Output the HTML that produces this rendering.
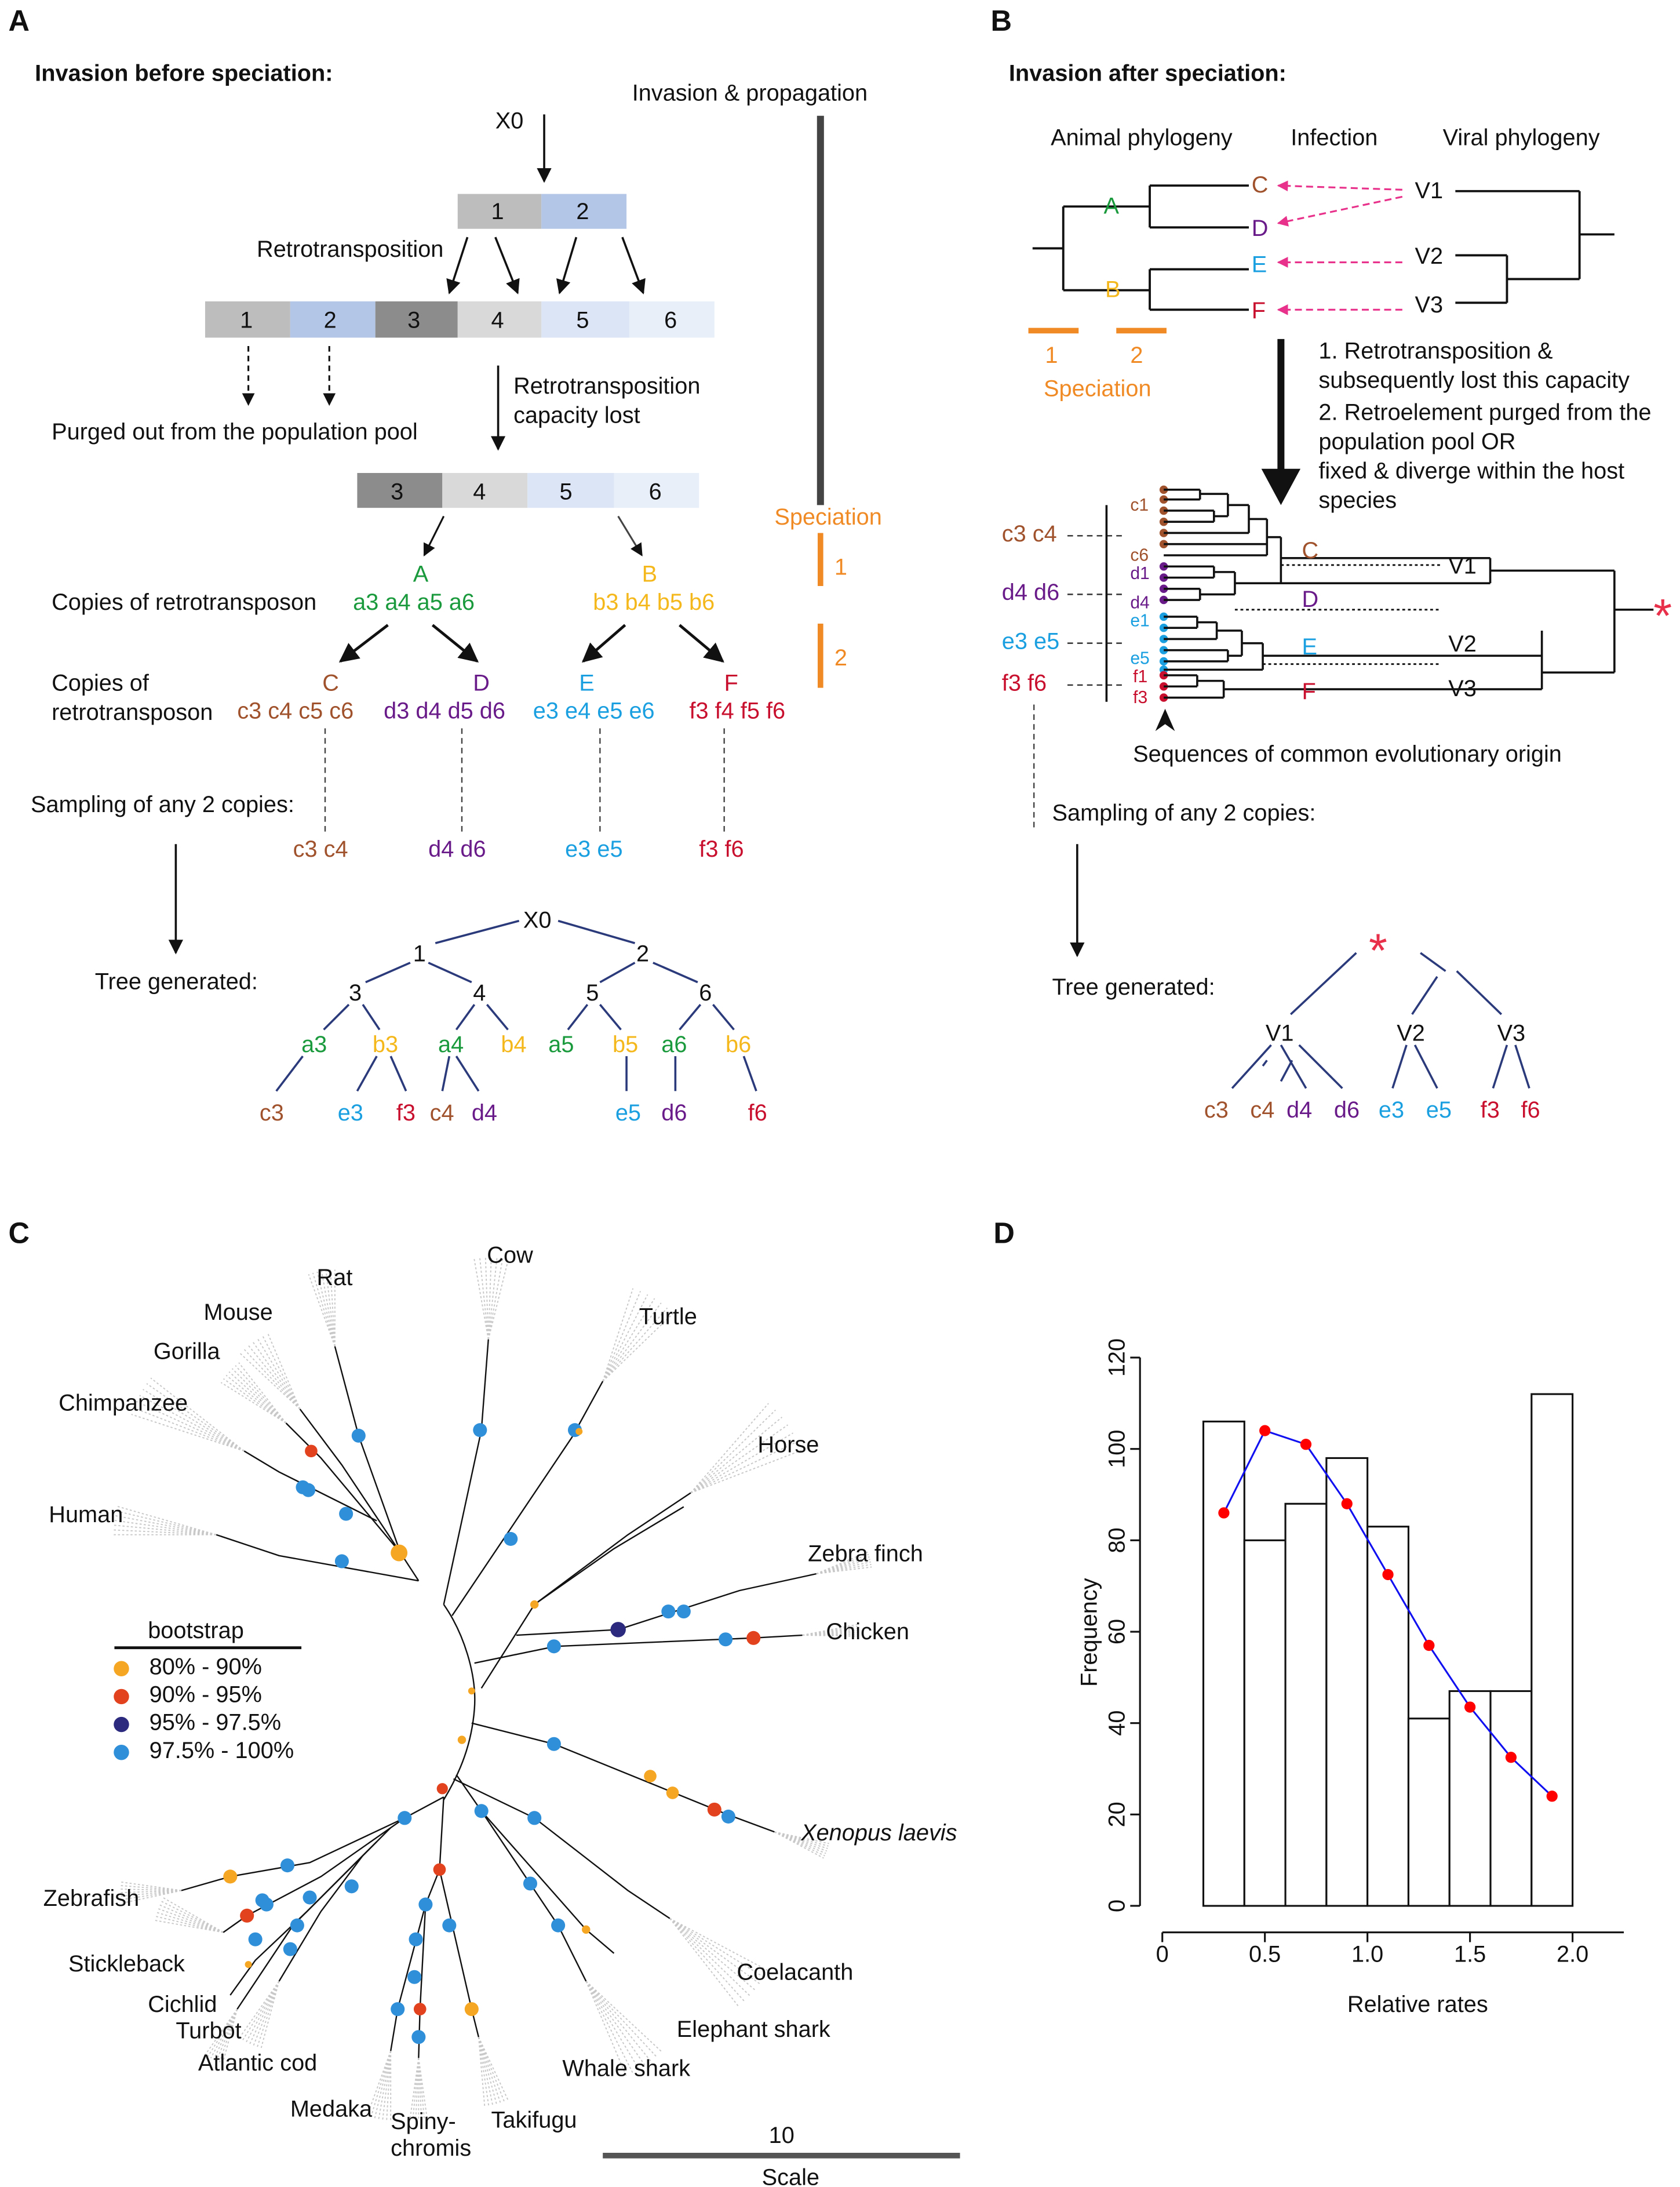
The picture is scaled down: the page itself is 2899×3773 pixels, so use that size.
<!DOCTYPE html>
<html><head><meta charset="utf-8">
<style>
html,body{margin:0;padding:0;background:#fff;}
svg{display:block;}
text{font-family:"Liberation Sans",Arial,sans-serif;font-size:16.5px;fill:#111;}
.b{font-weight:bold;}
.g{fill:#1a9a3c}.y{fill:#f5b81c}.br{fill:#a0522d}.p{fill:#6a1b8a}.bl{fill:#1a9fe0}.r{fill:#c8102e}.o{fill:#f08a24}
</style></head>
<body>
<svg id="fig" width="2899" height="3773" viewBox="0 0 1204 1567.5" preserveAspectRatio="none" xmlns="http://www.w3.org/2000/svg">
<defs>
<marker id="ah" viewBox="0 0 10 10" refX="9" refY="5" markerWidth="7" markerHeight="7" orient="auto-start-reverse"><path d="M0,0 L10,5 L0,10 z" fill="#111"/></marker>
<marker id="ahp" viewBox="0 0 10 10" refX="9" refY="5" markerWidth="6" markerHeight="6" orient="auto"><path d="M0,0 L10,5 L0,10 z" fill="#e8318a"/></marker>
</defs>

<!-- PANEL A -->
<g>
<text x="6" y="22" class="b" style="font-size:21px">A</text>
<text x="25" y="58" class="b">Invasion before speciation:</text>
<text x="355" y="92">X0</text>
<line x1="390" y1="82" x2="390" y2="130" stroke="#111" stroke-width="1.5" marker-end="url(#ah)"/>
<text x="453" y="72">Invasion &amp; propagation</text>
<line x1="588" y1="83" x2="588" y2="362" stroke="#444" stroke-width="5"/>
<g>
<rect x="328" y="139" width="60" height="25" fill="#bdbdbd"/><rect x="388" y="139" width="61" height="25" fill="#b3c6e7"/>
<text x="352" y="157">1</text><text x="413" y="157">2</text></g>
<text x="184" y="184">Retrotransposition</text>
<line x1="335" y1="170" x2="322" y2="210" stroke="#111" stroke-width="1.5" marker-end="url(#ah)"/>
<line x1="355" y1="170" x2="371" y2="210" stroke="#111" stroke-width="1.5" marker-end="url(#ah)"/>
<line x1="413" y1="170" x2="401" y2="210" stroke="#111" stroke-width="1.5" marker-end="url(#ah)"/>
<line x1="446" y1="170" x2="461" y2="210" stroke="#111" stroke-width="1.5" marker-end="url(#ah)"/>
<g>
<rect x="147" y="216" width="61" height="26" fill="#bdbdbd"/><rect x="208" y="216" width="61" height="26" fill="#b3c6e7"/>
<rect x="269" y="216" width="59" height="26" fill="#8c8c8c"/><rect x="328" y="216" width="60" height="26" fill="#d9d9d9"/>
<rect x="388" y="216" width="63" height="26" fill="#dbe5f5"/><rect x="451" y="216" width="61" height="26" fill="#e8eff9"/>
<text x="172" y="235">1</text><text x="232" y="235">2</text><text x="292" y="235">3</text><text x="352" y="235">4</text><text x="413" y="235">5</text><text x="476" y="235">6</text></g>
<line x1="178" y1="248" x2="178" y2="290" stroke="#111" stroke-width="1.3" stroke-dasharray="4,3" marker-end="url(#ah)"/>
<line x1="236" y1="248" x2="236" y2="290" stroke="#111" stroke-width="1.3" stroke-dasharray="4,3" marker-end="url(#ah)"/>
<line x1="357" y1="262" x2="357" y2="322" stroke="#111" stroke-width="1.5" marker-end="url(#ah)"/>
<text x="368" y="282">Retrotransposition</text><text x="368" y="303">capacity lost</text>
<text x="37" y="315">Purged out from the population pool</text>
<g>
<rect x="256" y="339" width="61" height="25" fill="#8c8c8c"/><rect x="317" y="339" width="61" height="25" fill="#d9d9d9"/>
<rect x="378" y="339" width="62" height="25" fill="#dbe5f5"/><rect x="440" y="339" width="61" height="25" fill="#e8eff9"/>
<text x="280" y="358">3</text><text x="339" y="358">4</text><text x="401" y="358">5</text><text x="465" y="358">6</text></g>
<line x1="318" y1="370" x2="304" y2="398" stroke="#111" stroke-width="1.3" marker-end="url(#ah)"/>
<line x1="443" y1="370" x2="460" y2="398" stroke="#444" stroke-width="1.3" marker-end="url(#ah)"/>
<text x="296" y="417" class="g">A</text><text x="460" y="417" class="y">B</text>
<text x="37" y="437">Copies of retrotransposon</text>
<text x="253" y="437" class="g">a3 a4 a5 a6</text><text x="425" y="437" class="y">b3 b4 b5 b6</text>
<text x="555" y="376" class="o">Speciation</text>
<line x1="588" y1="382" x2="588" y2="420" stroke="#f08a24" stroke-width="4"/><text x="598" y="412" class="o">1</text>
<line x1="588" y1="447" x2="588" y2="493" stroke="#f08a24" stroke-width="4"/><text x="598" y="477" class="o">2</text>
<line x1="278" y1="448" x2="244" y2="474" stroke="#111" stroke-width="2" marker-end="url(#ah)"/>
<line x1="310" y1="448" x2="342" y2="474" stroke="#111" stroke-width="2" marker-end="url(#ah)"/>
<line x1="448" y1="448" x2="418" y2="474" stroke="#111" stroke-width="2" marker-end="url(#ah)"/>
<line x1="487" y1="448" x2="518" y2="474" stroke="#111" stroke-width="2" marker-end="url(#ah)"/>
<text x="37" y="495">Copies of</text><text x="37" y="516">retrotransposon</text>
<text x="231" y="495" class="br">C</text><text x="339" y="495" class="p">D</text><text x="415" y="495" class="bl">E</text><text x="519" y="495" class="r">F</text>
<text x="170" y="515" class="br">c3 c4 c5 c6</text><text x="275" y="515" class="p">d3 d4 d5 d6</text>
<text x="382" y="515" class="bl">e3 e4 e5 e6</text><text x="494" y="515" class="r">f3 f4 f5 f6</text>
<g stroke="#444" stroke-width="1" stroke-dasharray="4,3">
<line x1="233" y1="522" x2="233" y2="598"/><line x1="331" y1="522" x2="331" y2="598"/>
<line x1="430" y1="522" x2="430" y2="598"/><line x1="519" y1="522" x2="519" y2="598"/></g>
<text x="22" y="582">Sampling of any 2 copies:</text>
<text x="210" y="614" class="br">c3 c4</text><text x="307" y="614" class="p">d4 d6</text>
<text x="405" y="614" class="bl">e3 e5</text><text x="501" y="614" class="r">f3 f6</text>
<line x1="126" y1="605" x2="126" y2="683" stroke="#111" stroke-width="1.5" marker-end="url(#ah)"/>
<text x="68" y="709">Tree generated:</text>
<g stroke="#2b3a7a" stroke-width="1.5">
<line x1="372" y1="660" x2="312" y2="676"/><line x1="400" y1="660" x2="455" y2="676"/>
<line x1="294" y1="690" x2="262" y2="704"/><line x1="307" y1="690" x2="338" y2="704"/>
<line x1="455" y1="690" x2="430" y2="704"/><line x1="468" y1="690" x2="500" y2="704"/>
<line x1="250" y1="720" x2="232" y2="738"/><line x1="260" y1="720" x2="272" y2="738"/>
<line x1="340" y1="720" x2="327" y2="738"/><line x1="349" y1="720" x2="364" y2="738"/>
<line x1="421" y1="720" x2="407" y2="738"/><line x1="430" y1="720" x2="445" y2="738"/>
<line x1="502" y1="720" x2="487" y2="738"/><line x1="511" y1="720" x2="526" y2="738"/>
<line x1="217" y1="757" x2="198" y2="782"/><line x1="270" y1="757" x2="256" y2="782"/><line x1="280" y1="757" x2="291" y2="782"/>
<line x1="322" y1="757" x2="317" y2="782"/><line x1="327" y1="757" x2="343" y2="782"/>
<line x1="449" y1="757" x2="449" y2="782"/><line x1="484" y1="757" x2="484" y2="782"/><line x1="533" y1="757" x2="542" y2="782"/></g>
<text x="375" y="665">X0</text><text x="296" y="689">1</text><text x="456" y="689">2</text>
<text x="250" y="717">3</text><text x="339" y="717">4</text><text x="420" y="717">5</text><text x="501" y="717">6</text>
<text x="216" y="754" class="g">a3</text><text x="267" y="754" class="y">b3</text><text x="314" y="754" class="g">a4</text><text x="359" y="754" class="y">b4</text>
<text x="393" y="754" class="g">a5</text><text x="439" y="754" class="y">b5</text><text x="474" y="754" class="g">a6</text><text x="520" y="754" class="y">b6</text>
<text x="186" y="803" class="br">c3</text><text x="242" y="803" class="bl">e3</text><text x="284" y="803" class="r">f3</text><text x="308" y="803" class="br">c4</text>
<text x="338" y="803" class="p">d4</text><text x="441" y="803" class="bl">e5</text><text x="474" y="803" class="p">d6</text><text x="536" y="803" class="r">f6</text>
</g>

<!-- PANEL B -->
<g>
<text x="710" y="22" class="b" style="font-size:21px">B</text>
<text x="723" y="58" class="b">Invasion after speciation:</text>
<text x="753" y="104">Animal phylogeny</text><text x="925" y="104">Infection</text><text x="1034" y="104">Viral phylogeny</text>
<path d="M740,178 H762 M762,148 V208 M762,148 H824 M824,133 V163 M824,133 H895 M824,163 H895 M762,208 H824 M824,193 V222 M824,193 H895 M824,222 H895" stroke="#111" stroke-width="1.6" fill="none"/>
<text x="791" y="153" class="g">A</text><text x="792" y="213" class="y">B</text>
<text x="897" y="138" class="br">C</text><text x="897" y="169" class="p">D</text><text x="897" y="195" class="bl">E</text><text x="897" y="228" class="r">F</text>
<g stroke="#e8318a" stroke-width="1.3" stroke-dasharray="5,3" fill="none">
<line x1="1005" y1="136" x2="916" y2="133" marker-end="url(#ahp)"/><line x1="1005" y1="141" x2="916" y2="160" marker-end="url(#ahp)"/>
<line x1="1005" y1="188" x2="916" y2="188" marker-end="url(#ahp)"/><line x1="1005" y1="222" x2="916" y2="222" marker-end="url(#ahp)"/></g>
<text x="1014" y="142">V1</text><text x="1014" y="189">V2</text><text x="1014" y="224">V3</text>
<path d="M1043,137 H1132 M1043,183 H1080 M1043,217 H1080 M1080,183 V217 M1080,200 H1132 M1132,137 V200 M1132,168 H1157" stroke="#111" stroke-width="1.6" fill="none"/>
<line x1="737" y1="237" x2="773" y2="237" stroke="#f08a24" stroke-width="4"/><line x1="800" y1="237" x2="836" y2="237" stroke="#f08a24" stroke-width="4"/>
<text x="749" y="260" class="o">1</text><text x="810" y="260" class="o">2</text><text x="748" y="284" class="o">Speciation</text>
<line x1="918" y1="243" x2="918" y2="340" stroke="#111" stroke-width="5"/>
<path d="M904,336 L932,336 L918,362 z" fill="#111"/>
<text x="945" y="257">1. Retrotransposition &amp;</text><text x="945" y="278">subsequently lost this capacity</text>
<text x="945" y="301">2. Retroelement purged from the</text><text x="945" y="322">population pool OR</text>
<text x="945" y="343">fixed &amp; diverge within the host</text><text x="945" y="364">species</text>
<text x="718" y="388" class="br">c3 c4</text><text x="718" y="430" class="p">d4 d6</text><text x="718" y="465" class="bl">e3 e5</text><text x="718" y="495" class="r">f3 f6</text>
<g stroke="#333" stroke-width="1" stroke-dasharray="4,3"><line x1="765" y1="384" x2="805" y2="384"/><line x1="765" y1="426" x2="805" y2="426"/><line x1="765" y1="461" x2="805" y2="461"/><line x1="765" y1="491" x2="805" y2="491"/></g>
<line x1="793" y1="362" x2="793" y2="503" stroke="#111" stroke-width="1.5"/>
<g><text x="810" y="366" class="br" style="font-size:12.5px">c1</text><text x="810" y="402" class="br" style="font-size:12.5px">c6</text>
<text x="810" y="415" class="p" style="font-size:12.5px">d1</text><text x="810" y="436" class="p" style="font-size:12.5px">d4</text>
<text x="810" y="449" class="bl" style="font-size:12.5px">e1</text><text x="810" y="476" class="bl" style="font-size:12.5px">e5</text>
<text x="812" y="489" class="r" style="font-size:12.5px">f1</text><text x="812" y="504" class="r" style="font-size:12.5px">f3</text></g>
<g id="bdots"></g>
<path d="M834,351 H860 M834,358 H860 M860,351 V358 M860,354 H880 M834,366 H870 M870,366 V374 M834,374 H870 M870,370 H880 M880,354 V370 M880,362 H895 M834,382 H895 M895,362 V382 M895,372 H908 M834,390 H908 M834,398 H908 M908,372 V398 M908,385 H918
M834,406 H870 M834,414 H870 M870,406 V414 M870,410 H885 M834,422 H860 M834,430 H860 M860,422 V430 M860,426 H885 M885,410 V426 M885,418 H1068 M918,385 V418 M918,400 H1068 M1068,400 V418 M1068,409 H1157
M834,442 H858 M834,450 H858 M858,442 V450 M858,446 H872 M834,458 H872 M872,446 V458 M872,452 H890 M834,466 H880 M834,474 H880 M880,466 V474 M880,470 H890 M890,452 V470 M890,461 H905 M834,480 H905 M905,461 V480 M905,470 H1105
M834,484 H858 M834,492 H858 M858,484 V492 M858,488 H877 M834,500 H877 M877,488 V500 M877,494 H1105 M1105,452 V494 M1105,482 H1157 M1157,409 V482 M1157,437 H1185" stroke="#111" stroke-width="1.5" fill="none"/>
<g stroke="#111" stroke-width="1.2" stroke-dasharray="2,2"><line x1="918" y1="405" x2="1032" y2="405"/><line x1="885" y1="437" x2="1032" y2="437"/><line x1="905" y1="476" x2="1032" y2="476"/></g>
<text x="933" y="400" class="br">C</text><text x="933" y="435" class="p">D</text><text x="933" y="469" class="bl">E</text><text x="933" y="501" class="r">F</text>
<text x="1038" y="411">V1</text><text x="1038" y="467">V2</text><text x="1038" y="499">V3</text>
<text x="1185" y="453" style="font-size:34px;fill:#e8304a">*</text>
<path d="M835,508 L828,524 L835,519 L842,524 z" fill="#111"/>
<text x="812" y="546">Sequences of common evolutionary origin</text>
<line x1="741" y1="505" x2="741" y2="595" stroke="#444" stroke-width="1" stroke-dasharray="4,3"/>
<text x="754" y="588">Sampling of any 2 copies:</text>
<line x1="772" y1="605" x2="772" y2="685" stroke="#111" stroke-width="1.5" marker-end="url(#ah)"/>
<text x="754" y="713">Tree generated:</text>
<text x="981" y="693" style="font-size:34px;fill:#e8304a">*</text>
<g stroke="#2b3a7a" stroke-width="1.5">
<line x1="972" y1="683" x2="925" y2="727"/><line x1="1018" y1="683" x2="1036" y2="696"/><line x1="1044" y1="696" x2="1076" y2="727"/><line x1="1030" y1="700" x2="1012" y2="727"/>
<line x1="911" y1="749" x2="883" y2="780"/><line x1="918" y1="749" x2="936" y2="780"/><line x1="908" y1="760" x2="905" y2="764"/>
<line x1="931" y1="749" x2="962" y2="780"/><line x1="926" y1="760" x2="918" y2="775"/>
<line x1="1008" y1="749" x2="998" y2="780"/><line x1="1014" y1="749" x2="1030" y2="780"/>
<line x1="1080" y1="749" x2="1070" y2="780"/><line x1="1086" y1="749" x2="1096" y2="780"/></g>
<text x="907" y="746">V1</text><text x="1001" y="746">V2</text><text x="1073" y="746">V3</text>
<text x="863" y="801" class="br">c3</text><text x="896" y="801" class="br">c4</text><text x="922" y="801" class="p">d4</text><text x="956" y="801" class="p">d6</text>
<text x="988" y="801" class="bl">e3</text><text x="1022" y="801" class="bl">e5</text><text x="1061" y="801" class="r">f3</text><text x="1090" y="801" class="r">f6</text>
</g>

<!-- PANEL C -->
<g>
<text x="6" y="891" class="b" style="font-size:21px">C</text>
<g id="fans"></g>
<path d="M318,1150 C332,1170 342,1200 340,1225 C338,1250 330,1270 318,1290" stroke="#111" stroke-width="1" fill="none"/>
<g stroke="#111" stroke-width="1" fill="none">
<path d="M318,1150 L345,1025 L350,960"/>
<path d="M324,1158 L410,1030 L432,990"/>
<path d="M300,1133 L287,1113 L257,1029 L240,965"/>
<path d="M287,1113 L245,1050 L215,1010"/>
<path d="M287,1113 L230,1045 L205,1020"/>
<path d="M270,1090 L230,1070 L200,1055 L175,1040"/>
<path d="M300,1133 L200,1115 L155,1100"/>
<path d="M340,1192 L398,1180 L540,1174 L575,1172"/>
<path d="M370,1172 L443,1168 L530,1140 L585,1128"/>
<path d="M345,1210 L383,1150 L450,1100 L495,1070"/>
<path d="M383,1150 L440,1110 L490,1080"/>
<path d="M338,1235 L397,1250 L520,1300 L555,1313"/>
<path d="M325,1275 L383,1303 L450,1355 L480,1375"/>
<path d="M327,1272 L345,1298 L400,1380 L420,1420"/>
<path d="M345,1298 L420,1383 L440,1400"/>
<path d="M318,1288 L290,1303 L222,1335 L165,1345 L130,1355"/>
<path d="M290,1303 L230,1345 L177,1373 L160,1385"/>
<path d="M280,1310 L220,1370 L183,1405 L165,1430"/>
<path d="M270,1320 L210,1380 L170,1440"/>
<path d="M260,1330 L230,1370 L200,1420"/>
<path d="M318,1288 L315,1340 L305,1365 L285,1440 L280,1470"/>
<path d="M305,1365 L301,1440 L300,1475"/>
<path d="M315,1340 L338,1440 L343,1460"/>
</g>
<g id="cdots"></g>
<g>
<text x="106" y="1174">bootstrap</text>
<line x1="82" y1="1181" x2="216" y2="1181" stroke="#111" stroke-width="2"/>
<circle cx="87" cy="1196" r="5.5" fill="#f5a623"/><text x="107" y="1200">80% - 90%</text>
<circle cx="87" cy="1216" r="5.5" fill="#e2431e"/><text x="107" y="1220">90% - 95%</text>
<circle cx="87" cy="1236" r="5.5" fill="#2b2a7e"/><text x="107" y="1240">95% - 97.5%</text>
<circle cx="87" cy="1256" r="5.5" fill="#2f8fd8"/><text x="107" y="1260">97.5% - 100%</text>
</g>
<g>
<text x="349" y="905">Cow</text><text x="227" y="921">Rat</text><text x="146" y="946">Mouse</text><text x="110" y="974">Gorilla</text>
<text x="458" y="949">Turtle</text><text x="42" y="1011">Chimpanzee</text><text x="543" y="1041">Horse</text><text x="35" y="1091">Human</text>
<text x="579" y="1119">Zebra finch</text><text x="592" y="1175">Chicken</text><text x="574" y="1319" style="font-style:italic">Xenopus laevis</text>
<text x="31" y="1366">Zebrafish</text><text x="49" y="1413">Stickleback</text><text x="528" y="1419">Coelacanth</text>
<text x="106" y="1442">Cichlid</text><text x="126" y="1461">Turbot</text><text x="485" y="1460">Elephant shark</text>
<text x="142" y="1484">Atlantic cod</text><text x="403" y="1488">Whale shark</text><text x="208" y="1517">Medaka</text>
<text x="280" y="1526">Spiny-</text><text x="280" y="1545">chromis</text><text x="352" y="1525">Takifugu</text>
</g>
<line x1="432" y1="1545" x2="688" y2="1545" stroke="#555" stroke-width="4"/>
<text x="551" y="1536">10</text><text x="546" y="1566">Scale</text>
</g>

<!-- PANEL D -->
<g>
<text x="712" y="891" class="b" style="font-size:21px">D</text>
<g id="chartD"></g>
</g>
</svg>

<script>
// Panel D data
const binStarts = [0.2,0.4,0.6,0.8,1.0,1.2,1.4,1.6,1.8];
const binCounts = [106,80,88,98,83,41,47,47,112];
const pointX = [0.3,0.5,0.7,0.9,1.1,1.3,1.5,1.7,1.9];
const pointY = [86,104,101,88,72.5,57,43.5,32.5,24];
const xTicks = ["0","0.5","1.0","1.5","2.0"];
const xTickVals = [0,0.5,1.0,1.5,2.0];
const yTickVals = [0,20,40,60,80,100,120];

const NS = "http://www.w3.org/2000/svg";
function mk(tag, attrs, parent){const e=document.createElementNS(NS,tag);for(const k in attrs)e.setAttribute(k,attrs[k]);parent.appendChild(e);return e;}
const xs = v => 833 + v*147;
const ys = v => 1366 - v*3.275;
const g = document.getElementById('chartD');
binStarts.forEach((b,i)=>{
  const r = mk('rect',{x:xs(b),y:ys(binCounts[i]),width:xs(b+0.2)-xs(b),height:ys(0)-ys(binCounts[i]),fill:'#fff',stroke:'#111','stroke-width':1.3},g);
  
  
});
const pl = mk('polyline',{points:pointX.map((x,i)=>xs(x)+','+ys(pointY[i])).join(' '),fill:'none',stroke:'#1010f0','stroke-width':1.3},g);


pointX.forEach((x,i)=>{
  const c = mk('circle',{cx:xs(x),cy:ys(pointY[i]),r:4,fill:'#f00'},g);
  
  
});
mk('line',{x1:817,y1:ys(0),x2:817,y2:ys(120),stroke:'#111','stroke-width':1.3},g);
yTickVals.forEach(v=>{
  mk('line',{x1:810,y1:ys(v),x2:817,y2:ys(v),stroke:'#111','stroke-width':1.3},g);
  const t = mk('text',{x:0,y:0,transform:`translate(${806},${ys(v)}) rotate(-90)`,'text-anchor':'middle'},g);
  t.textContent = v;
  
  
});
mk('line',{x1:xs(0),y1:1385,x2:xs(2.25),y2:1385,stroke:'#111','stroke-width':1.3},g);
xTickVals.forEach((v,i)=>{
  mk('line',{x1:xs(v),y1:1385,x2:xs(v),y2:1392,stroke:'#111','stroke-width':1.3},g);
  const t = mk('text',{x:xs(v),y:1406,'text-anchor':'middle'},g);
  t.textContent = xTicks[i];
  
  
});
const yt = mk('text',{x:0,y:0,transform:'translate(786,1170) rotate(-90)','text-anchor':'middle'},g);
yt.textContent='Frequency';


const xt = mk('text',{x:1016,y:1442,'text-anchor':'middle'},g);
xt.textContent='Relative rates';



// Panel B sequence dots
const bd = document.getElementById('bdots');
const dotCols = ['#a0522d','#a0522d','#a0522d','#a0522d','#a0522d','#a0522d','#6a1b8a','#6a1b8a','#6a1b8a','#6a1b8a','#1a9fe0','#1a9fe0','#1a9fe0','#1a9fe0','#1a9fe0','#1a9fe0','#c8102e','#c8102e','#c8102e'];
const dotYs = [351,358,366,374,382,390,406,414,422,430,442,450,458,466,474,480,484,492,500];
dotYs.forEach((y,i)=>{const c=mk('circle',{cx:834,cy:y,r:3,fill:dotCols[i]},bd);

});

// Panel C decorative fans
const fans = document.getElementById('fans');
const fanDefs = [[350,960,-88,12,60],[432,990,-58,14,70],[240,965,-100,10,55],[215,1010,-125,12,60],[205,1020,-138,10,55],
[175,1040,-152,10,85],[155,1100,-172,8,75],[495,1070,-35,14,85],[585,1128,-15,8,40],[575,1172,-5,6,40],[555,1313,20,8,40],
[480,1375,40,12,80],[420,1420,55,12,75],[130,1355,178,10,45],[170,1440,115,10,40],[200,1420,115,10,50],
[280,1470,100,10,50],[300,1475,90,8,45],[343,1460,75,10,50],[160,1385,200,10,50]];
fanDefs.forEach(f=>{const [x,y,a,s,L]=f; for(let k=-3;k<=3;k++){const an=(a+k*s/3)*Math.PI/180;
mk('line',{x1:x,y1:y,x2:x+L*Math.cos(an),y2:y+L*Math.sin(an),stroke:'#c8c8c8','stroke-width':0.8,'stroke-dasharray':'1.5,1.5'},fans);}});

// Panel C bootstrap dots
const cd = document.getElementById('cdots');
const B='#2f8fd8',O='#f5a623',R='#e2431e',N='#2b2a7e';
const cdots=[[257,1029,B,5],[223,1040,R,4.5],[217,1066,B,5],[221,1068,B,5],[248,1085,B,5],[245,1119,B,5],[286,1113,O,6],[344,1025,B,5],
[412,1025,B,5],[415,1026,O,2.5],[366,1103,B,5],[383,1150,O,3],[443,1168,N,5.5],[479,1155,B,5],[490,1155,B,5],[397,1180,B,5],[520,1175,B,5],[540,1174,R,5],
[338,1212,O,2.5],[331,1247,O,3],[397,1250,B,5],[466,1273,O,4.5],[482,1285,O,4.5],[512,1297,R,5],[522,1302,B,5],[317,1282,R,4],[290,1303,B,5],
[345,1298,B,5],[383,1303,B,5],[380,1350,B,5],[400,1380,B,5],[420,1383,O,3],[252,1352,B,5],[222,1360,B,5],[206,1337,B,5],[188,1362,B,5],[191,1365,B,5],
[165,1345,O,5],[177,1373,R,5],[183,1390,B,5],[213,1380,B,5],[208,1397,B,5],[298,1390,B,5],[315,1340,R,4.5],[305,1365,B,5],[297,1417,B,5],[285,1440,B,5],
[301,1440,R,4.5],[300,1460,B,5],[322,1380,B,5],[338,1440,O,5],[178,1408,O,2.5]];
cdots.forEach(d=>{const c=mk('circle',{cx:d[0],cy:d[1],r:d[3],fill:d[2]},cd);

});
</script>
</body></html>
